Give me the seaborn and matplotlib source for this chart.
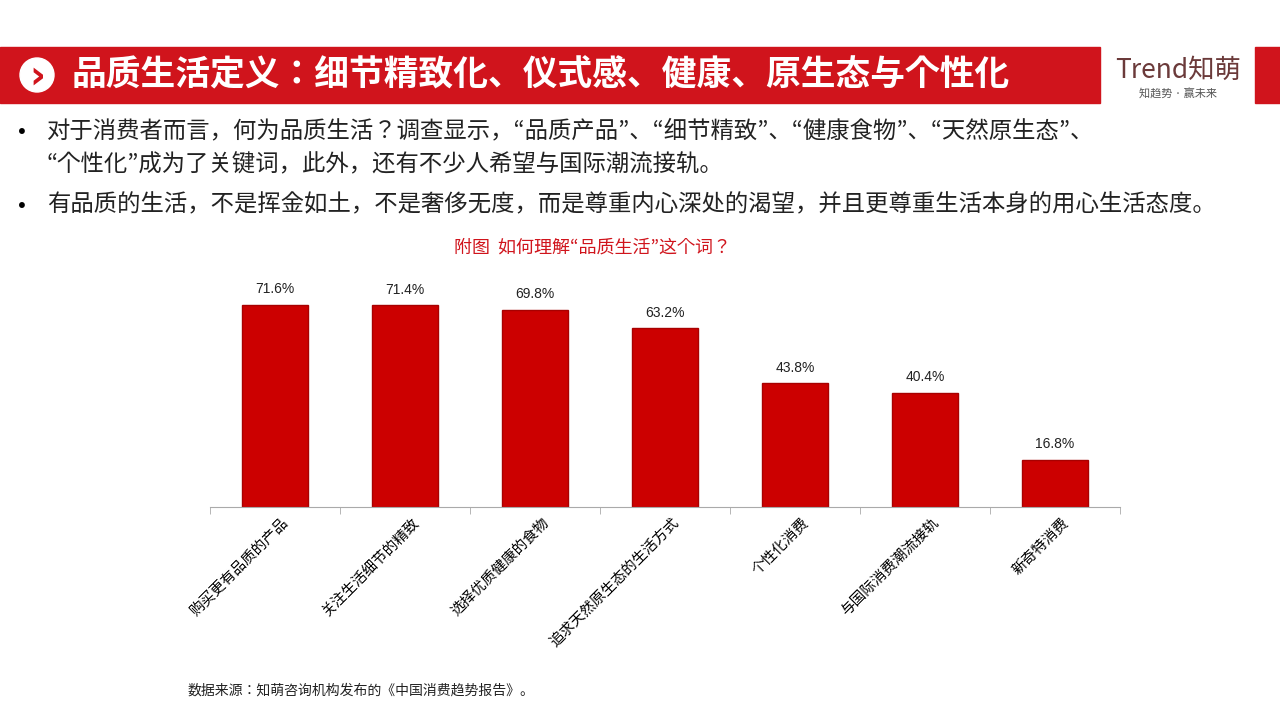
import matplotlib
matplotlib.use("Agg")
import matplotlib.pyplot as plt
from matplotlib import font_manager
import seaborn as sns
import pandas as pd
from matplotlib.patches import Rectangle, Ellipse

cjk = [f for f in font_manager.fontManager.ttflist if "CJK" in f.name]
fam = "Noto Sans CJK SC"
names = sorted({f.name for f in cjk})
if names and fam not in names:
    fam = [n for n in names if "SC" in n][0] if any("SC" in n for n in names) else names[0]
if not names:
    import glob
    for p in glob.glob("/usr/share/fonts/**/*CJK*", recursive=True):
        font_manager.fontManager.addfont(p)
    names = sorted({f.name for f in font_manager.fontManager.ttflist if "CJK" in f.name})
    if names:
        fam = [n for n in names if "SC" in n][0] if any("SC" in n for n in names) else names[0]
plt.rcParams["font.family"] = [fam, "DejaVu Sans"]

categories = ["购买更有品质的产品", "关注生活细节的精致", "选择优质健康的食物", "追求天然原生态的生活方式",
              "个性化消费", "与国际消费潮流接轨", "新奇特消费"]
values = [71.6, 71.4, 69.8, 63.2, 43.8, 40.4, 16.8]
labels = ["71.6%", "71.4%", "69.8%", "63.2%", "43.8%", "40.4%", "16.8%"]

RED = "#D0141C"
fig = plt.figure(figsize=(12.8, 7.2), dpi=100)

fig.patches.append(Rectangle((0, 1 - 103/720), 1100/1280, 56/720, transform=fig.transFigure, color=RED, zorder=0))
fig.patches.append(Rectangle((1255/1280, 1 - 103/720), 25/1280, 56/720, transform=fig.transFigure, color=RED, zorder=0))
fig.patches.append(Ellipse((37/1280, 1 - 75/720), 34/1280, 34/720, transform=fig.transFigure, color="white", zorder=1))
fig.text(37/1280, 1 - 77/720, "›", color=RED, fontsize=28, fontweight="bold", ha="center", va="center",
         family="DejaVu Sans", zorder=2)
fig.text(72/1280, 1 - 75/720, "品质生活定义：细节精致化、仪式感、健康、原生态与个性化", color="white",
         fontsize=25, fontweight="bold", ha="left", va="center")
fig.text(1178/1280, 1 - 70/720, "Trend知萌", color="#6b3a3a", fontsize=19, ha="center", va="center")
fig.text(1178/1280, 1 - 94/720, "知趋势 · 赢未来", color="#555555", fontsize=8, ha="center", va="center")

fs = 16.8
fig.text(18/1280, 1 - 131/720, "•", fontsize=fs, va="center")
fig.text(47/1280, 1 - 131/720, "对于消费者而言，何为品质生活？调查显示，“品质产品”、“细节精致”、“健康食物”、“天然原生态”、",
         fontsize=fs, va="center", color="#222222")
fig.text(47/1280, 1 - 165/720, "“个性化”成为了关键词，此外，还有不少人希望与国际潮流接轨。", fontsize=fs, va="center", color="#222222")
fig.text(18/1280, 1 - 205/720, "•", fontsize=fs, va="center")
fig.text(47/1280, 1 - 205/720, "有品质的生活，不是挥金如土，不是奢侈无度，而是尊重内心深处的渴望，并且更尊重生活本身的用心生活态度。",
         fontsize=fs, va="center", color="#222222")

fig.text(593/1280, 1 - 248/720, "附图  如何理解“品质生活”这个词？", color=RED, fontsize=13, ha="center", va="center")

ax = fig.add_axes([210/1280, 1 - 507/720, 910/1280, 226/720])
df = pd.DataFrame({"cat": categories, "val": values})
sns.barplot(data=df, x="cat", y="val", ax=ax, color="#CC0000", width=0.51, saturation=1,
            edgecolor="#A80000", linewidth=1)
ax.set_ylim(0, 80)
ax.set_xlim(-0.5, len(categories) - 0.5)
for i, (v, l) in enumerate(zip(values, labels)):
    ax.text(i, v + 3, l, ha="center", va="bottom", fontsize=10, color="#222222", family="Liberation Sans")
for s in ["top", "right", "left"]:
    ax.spines[s].set_visible(False)
ax.spines["bottom"].set_color("#AAAAAA")
ax.set_yticks([])
ax.set_xlabel("")
ax.set_ylabel("")
ax.set_xticks([i - 0.5 for i in range(len(categories) + 1)], minor=True)
ax.tick_params(axis="x", which="minor", length=5, color="#AAAAAA")
ax.tick_params(axis="x", which="major", length=0, pad=6)
ax.set_xticks([i + 0.05 for i in range(len(categories))])
ax.set_xticklabels(categories, rotation=45, ha="right", rotation_mode="anchor", fontsize=10.5)

fig.text(188/1280, 1 - 691/720, "数据来源：知萌咨询机构发布的《中国消费趋势报告》。", fontsize=10, va="center", color="#222222")

fig.savefig("out.png", dpi=100)
